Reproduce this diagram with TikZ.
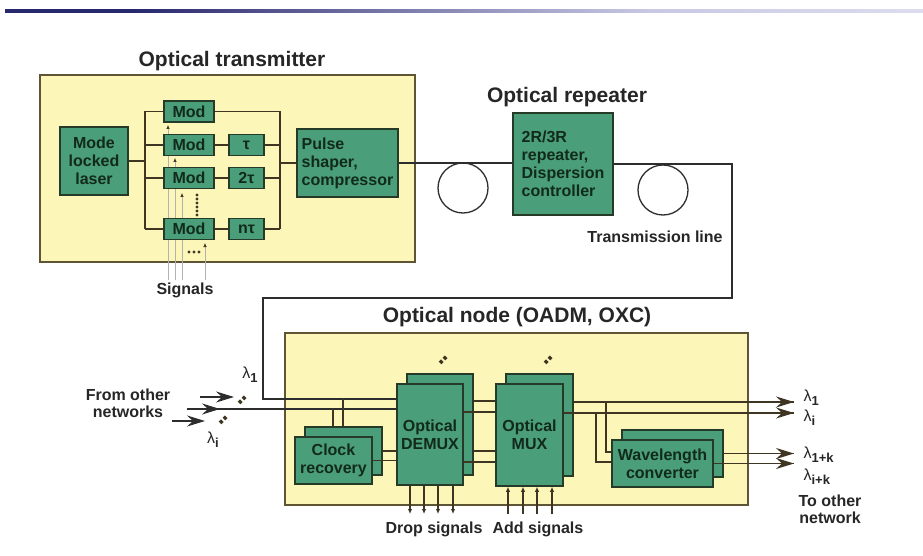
\documentclass[tikz,border=0pt]{standalone}
\usepackage{fontspec}
\setmainfont{Liberation Sans}
\usetikzlibrary{arrows.meta}
\definecolor{boxgreen}{RGB}{74,158,122}
\definecolor{boxedge}{RGB}{38,58,40}
\definecolor{paleyellow}{RGB}{252,247,184}
\definecolor{yedge}{RGB}{95,85,52}
\definecolor{wirecol}{RGB}{62,54,34}
\definecolor{fibrecol}{RGB}{45,45,45}
\definecolor{txt}{RGB}{18,42,28}
\definecolor{navy}{RGB}{40,40,110}
\definecolor{navylight}{RGB}{200,200,228}
\pgfdeclarehorizontalshading{rulefade}{100bp}{color(0bp)=(navy); color(32bp)=(navy); color(60bp)=(navylight); color(100bp)=(white)}
\newcommand{\lam}[1]{{\mdseries λ}\raisebox{-0.45ex}{\fontsize{13}{13}\selectfont\bfseries #1}}
\begin{document}
\begin{tikzpicture}[x=1pt,y=-1pt,
  gbox/.style={draw=boxedge,fill=boxgreen,line width=1.5pt,inner sep=0pt,text=txt,align=center,font=\fontsize{16}{18}\selectfont\bfseries},
  ttl/.style={font=\fontsize{21}{24}\selectfont\bfseries,text=black!85},
  lbl/.style={font=\fontsize{16}{17}\selectfont\bfseries,text=black!85,align=center},
  wire/.style={draw=wirecol,line width=1.6pt},
  fibre/.style={draw=fibrecol,line width=1.5pt},
  sig/.style={draw=black!30,line width=0.6pt,-{Latex[length=4pt,width=3.5pt,color=wirecol]}},
  panel/.style={draw=yedge,fill=paleyellow,line width=2pt,inner sep=0pt},
  coil/.style={circle,draw=fibrecol,line width=1.3pt,minimum size=50pt,inner sep=0pt},
  bigarrow/.style={draw=fibrecol,line width=1.5pt,-{Stealth[length=18pt,width=11pt,inset=6pt]}},
  smallarrow/.style={draw=wirecol,line width=1.2pt,-{Latex[length=5pt,width=4.5pt]}},
  dotpair/.style={draw=wirecol,line width=3.8pt,dash pattern=on 3.2pt off 2.4pt}
]
\useasboundingbox (0,0) rectangle (923,556);
\fill[white] (0,0) rectangle (923,556);
% top rule
\shade[shading=rulefade] (5,10) rectangle (923,12.5);

% ---------------- transmitter ----------------
\node[panel,minimum width=375pt,minimum height=187pt] (txpanel) at (227.5,168.5) {};
\node[ttl] (txtitle) at (232,61) {Optical transmitter};

% signal lines (behind modulators)
\coordinate (s1) at (168,280); \coordinate (s2) at (175,280);
\coordinate (s3) at (182,280); \coordinate (s4) at (205,280);
\coordinate (s1e) at (168,125); \coordinate (s2e) at (175,158);
\coordinate (s3e) at (182,193); \coordinate (s4e) at (205,243);
\draw[sig] (s1) -- (s1e);
\draw[sig] (s2) -- (s2e);
\draw[sig] (s3) -- (s3e);
\draw[sig] (s4) -- (s4e);
\foreach \yy in {195,199,203,207,211,215} \fill[wirecol] (197,\yy) circle[radius=1.6pt];
\foreach \xx in {189,194,199} \fill[wirecol] (\xx,252) circle[radius=1.6pt];
\node[lbl] (signals) at (185,290) {Signals};

\node[gbox,minimum width=68pt,minimum height=68pt] (laser) at (94,161) {Mode\\locked\\laser};
\node[gbox,minimum width=50pt,minimum height=21pt] (mod1) at (189,111.5) {Mod};
\node[gbox,minimum width=50pt,minimum height=21pt] (mod2) at (189,145) {Mod};
\node[gbox,minimum width=50pt,minimum height=21pt] (mod3) at (189,178) {Mod};
\node[gbox,minimum width=50pt,minimum height=21pt] (mod4) at (189,229) {Mod};
\node[gbox,minimum width=35pt,minimum height=21pt] (tau1) at (246.5,145) {τ};
\node[gbox,minimum width=35pt,minimum height=21pt] (tau2) at (246.5,178) {2τ};
\node[gbox,minimum width=35pt,minimum height=21pt] (taun) at (246.5,229) {nτ};
\node[gbox,minimum width=101pt,minimum height=68pt,align=left] (pulse) at (347.5,163) {Pulse\\shaper,\\compressor};

\coordinate (lbus) at (145,0);
\coordinate (rbus) at (280,0);
\draw[wire] (mod1.west -| lbus) -- (mod4.west -| lbus);
\foreach \m in {mod1,mod2,mod3,mod4} \draw[wire] (\m.west -| lbus) -- (\m.west);
\draw[wire] (laser.east) -- (laser.east -| lbus);
\draw[wire] (mod1.east) -- (mod1.east -| rbus) -- (taun.east -| rbus);
\draw[wire] (mod2.east) -- (tau1.west);
\draw[wire] (mod3.east) -- (tau2.west);
\draw[wire] (mod4.east) -- (taun.west);
\draw[wire] (tau1.east) -- (tau1.east -| rbus);
\draw[wire] (tau2.east) -- (tau2.east -| rbus);
\draw[wire] (taun.east) -- (taun.east -| rbus);
\draw[wire] (pulse.west -| rbus) -- (pulse.west);

% ---------------- repeater & line ----------------
\node[ttl] (reptitle) at (567,97) {Optical repeater};
\node[gbox,minimum width=100pt,minimum height=102pt,align=left] (rep) at (563,164) {2R/3R\\repeater,\\Dispersion\\controller};
\node[coil] (coil1) at (463,188) {};
\node[coil] (coil2) at (663,190) {};
\draw[fibre] (pulse.east) -- (pulse.east -| rep.west);
\node[lbl] (tline) at (655,237) {Transmission line};

% ---------------- node ----------------
\node[panel,minimum width=463pt,minimum height=172pt] (nodepanel) at (516.5,419) {};
\node[ttl] (nodetitle) at (517,317) {Optical node (OADM, OXC)};

\node[gbox,minimum width=66pt,minimum height=101pt] (demuxb) at (440,424.5) {};
\node[gbox,minimum width=66pt,minimum height=101pt] (demux) at (430,434.5) {Optical\\DEMUX};
\node[gbox,minimum width=67pt,minimum height=102pt] (muxb) at (539.5,425) {};
\node[gbox,minimum width=67pt,minimum height=102pt] (mux) at (529.5,435) {Optical\\MUX};
\node[gbox,minimum width=77pt,minimum height=48pt] (clockb) at (343.5,451) {};
\node[gbox,minimum width=77pt,minimum height=47pt] (clock) at (333.5,460.5) {Clock\\recovery};
\node[gbox,minimum width=101pt,minimum height=47pt] (wcb) at (672.5,453.5) {};
\node[gbox,minimum width=101pt,minimum height=47pt] (wc) at (662.5,463.5) {Wavelength\\converter};

% loop from repeater into node
\coordinate (lp1) at (732,298);
\coordinate (lp2) at (263,298);
\coordinate (loopin) at (263,399);
\draw[fibre] (rep.east) -| (lp1) -- (lp2) -- (loopin) -- (loopin -| demux.west);

% inputs from other networks
\coordinate (inA) at (187,409);
\coordinate (a2e) at (220,409);
\coordinate (a1) at (200,397); \coordinate (a1e) at (234,397);
\coordinate (a3) at (172,421); \coordinate (a3e) at (205,421);
\draw[fibre] (inA) -- (inA -| demux.west);
\draw[bigarrow] (inA) -- (a2e);
\draw[bigarrow] (a1) -- (a1e);
\draw[bigarrow] (a3) -- (a3e);
\draw[dotpair] (239,403) -- (245.5,396.5);
\draw[dotpair] (220,423) -- (226.5,416.5);
\node[lbl] (l1in) at (250,375) {\lam{1}};
\node[lbl] (liin) at (213,440) {\lam{i}};
\node[lbl] (fromother) at (128,403) {From other\\networks};

% clock recovery taps
\coordinate (cv1) at (333,0);
\coordinate (cv2) at (343,0);
\draw[wire] (cv1 |- clockb.north) -- (cv1 |- inA);
\draw[wire] (cv2 |- clockb.north) -- (cv2 |- loopin);
\draw[wire] (clockb.east) -- (clockb.east -| demux.west);
\draw[wire] (clock.east) -- (clock.east -| demux.west);

% demux -> mux
\draw[wire] ([yshift=23.5pt]demuxb.east) coordinate (d1) -- (d1 -| mux.west);
\draw[wire] ([yshift=22.5pt]demux.east) coordinate (d2) -- (d2 -| mux.west);
\draw[wire] ([yshift=-26.5pt]demuxb.east) coordinate (d3) -- (d3 -| mux.west);
\draw[wire] ([yshift=-27.5pt]demux.east) coordinate (d4) -- (d4 -| mux.west);
\draw[dotpair] (440,363) -- (446.5,356.5);
\draw[dotpair] (545,363) -- (551.5,356.5);

% mux outputs
\coordinate (outx) at (794,0);
\coordinate (br1) at (606,0);
\coordinate (br2) at (596,0);
\draw[wire] ([yshift=23pt]muxb.east) coordinate (m1) -- (m1 -| outx);
\draw[wire] ([yshift=22pt]mux.east) coordinate (m2) -- (m2 -| outx);
\draw[wire] (m1 -| br1) |- ([yshift=11.5pt]wc.west);
\draw[wire] (m2 -| br2) |- ([yshift=1.5pt]wc.west);
\draw[wire] (wcb.east) -- (wcb.east -| outx);
\draw[wire] (wc.east) -- (wc.east -| outx);
\draw[bigarrow,draw=wirecol] ([xshift=-30pt]m1 -| outx) -- (m1 -| outx);
\draw[bigarrow,draw=wirecol] ([xshift=-30pt]m2 -| outx) -- (m2 -| outx);
\draw[bigarrow,draw=wirecol] ([xshift=-30pt]wcb.east -| outx) -- (wcb.east -| outx);
\draw[bigarrow,draw=wirecol] ([xshift=-30pt]wc.east -| outx) -- (wc.east -| outx);
\node[lbl,anchor=west] (l1out) at (800,398) {\lam{1}};
\node[lbl,anchor=west] (liout) at (800,418) {\lam{i}};
\node[lbl,anchor=west] (l1k) at (800,455) {\lam{1+k}};
\node[lbl,anchor=west] (lik) at (800,477) {\lam{i+k}};
\node[lbl] (toother) at (830,509) {To other\\network};

% drop / add
\foreach \xx/\n in {410/1,424/2,438/3,453/4} {
  \coordinate (dr\n) at (\xx,514);
  \draw[smallarrow] (dr\n |- demux.south) -- (dr\n);
}
\foreach \xx/\n in {508/1,523/2,537/3,552/4} {
  \coordinate (ad\n) at (\xx,514);
  \draw[smallarrow] (ad\n) -- (ad\n |- mux.south);
}
\node[lbl] (drop) at (434,529) {Drop signals};
\node[lbl] (add) at (538,529) {Add signals};
\end{tikzpicture}
\end{document}
